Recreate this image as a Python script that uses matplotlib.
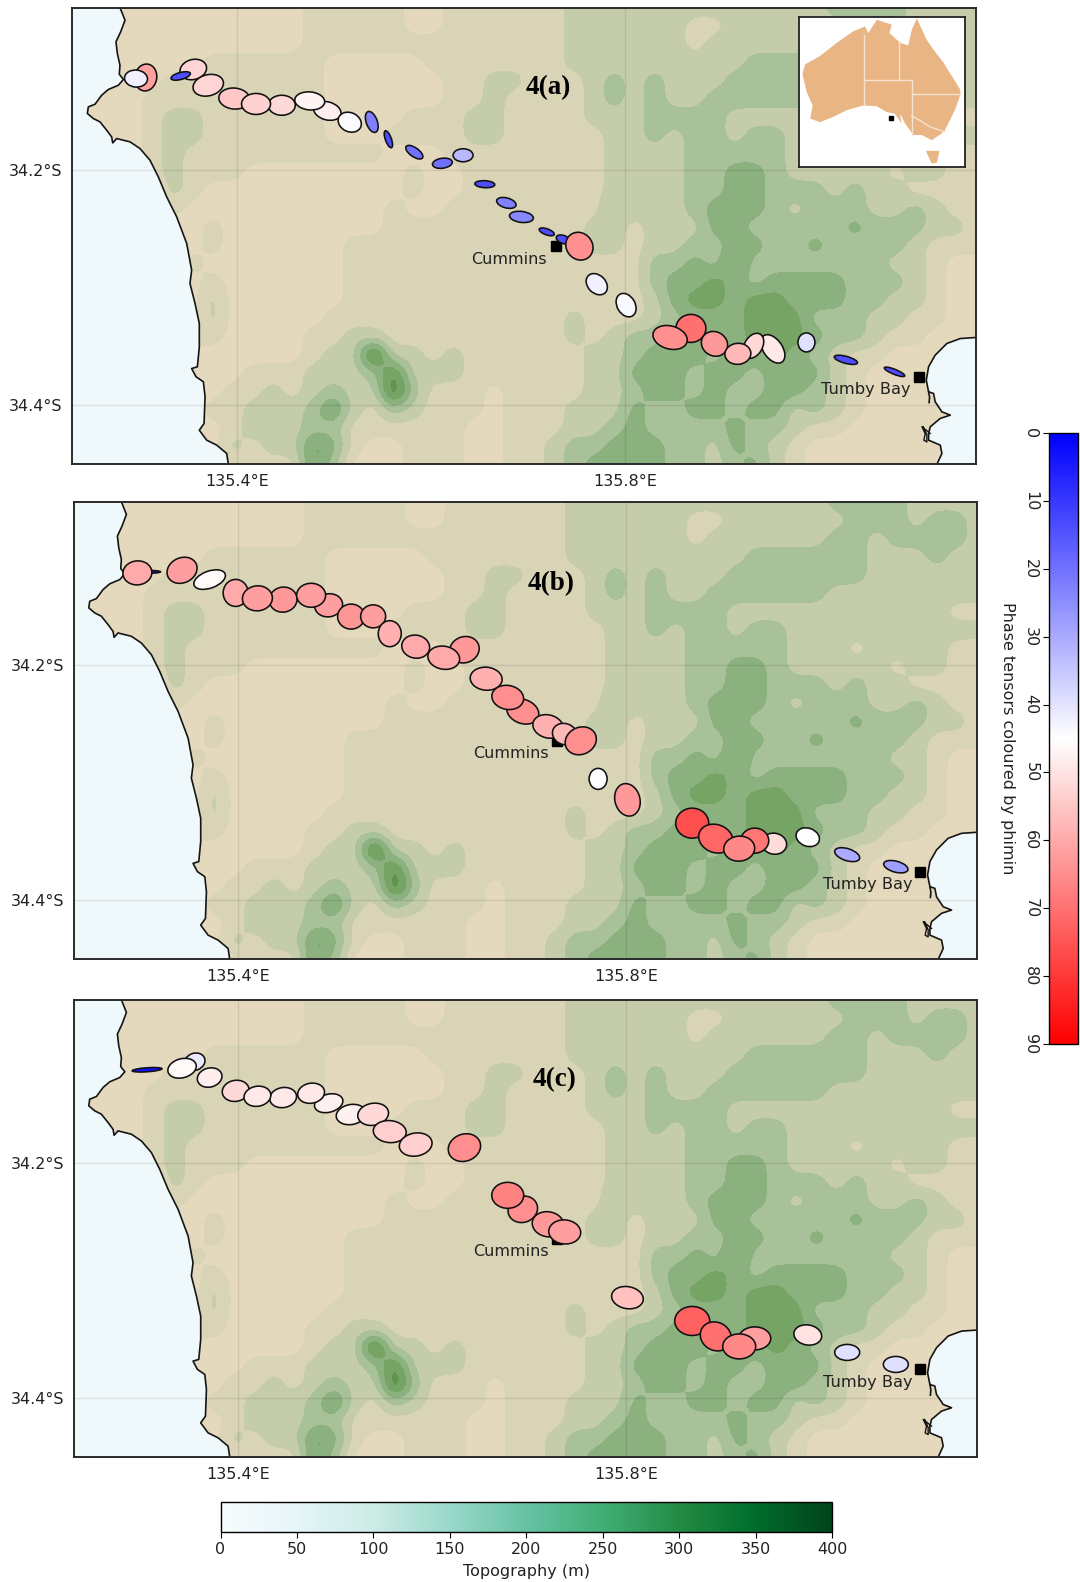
import numpy as np
import matplotlib
matplotlib.use('Agg')
import matplotlib.pyplot as plt
from matplotlib.collections import EllipseCollection
from matplotlib.cm import ScalarMappable
from matplotlib.colors import Normalize

nan = float('nan')

# map extent
lon_min, lon_max = 135.2307, 136.161
lat_min, lat_max = -34.450, -34.0617

# topography bands, one digit per grid node, north to south
topo_rows = [
    "0000000000001111100111" + "111222222222222233332222",
    "0000000000001111100111" + "111222222112222223332332",
    "0000000000001111111111" + "111222222122222233233332",
    "0000000111111000001111" + "111222222222333333222322",
    "0000011111111000000112" + "211123232223333333222222",
    "0000111111111000000112" + "111123232233333322222222",
    "0000122111111000011122" + "111122233332222222222211",
    "0000122111111000111122" + "111112232332332222222222",
    "0000121111111111000111" + "111112222333332221222211",
    "0000121110000000010011" + "111112222334432222212211",
    "0000021000000000010011" + "111112222334433323221111",
    "0000010000000000100111" + "111113222344432333223211",
    "0000000100000000111111" + "111122122244333334333221",
    "0000000100000011111111" + "111122122334433433332111",
    "0000001000000011111111" + "111111133435333333322100",
    "0000000100000011111111" + "111111134454344443332100",
    "0000000200000011111111" + "111111124554554443322100",
    "0000000200000111111111" + "111211123444555333221100",
    "0000001100001122111111" + "111212334444555433211000",
    "0000000000001227221211" + "111122344434454321100000",
    "0000000001112223622211" + "111122444344344421000000",
    "0000000011212322731110" + "111122344343344321000000",
    "0000000112223521321110" + "111222433443442321000000",
    "0000000012223311111100" + "111223433334332110000000",
    "0000000021225410011100" + "112334443324321000000000",
    "0000000011115300011100" + "112344443323421000000000",
]
topo_levels = [0, 50, 100, 150, 200, 250, 300, 350, 400]
band_colors = ['#e5d9bd', '#d9d4b6', '#c5cca9', '#a9c198', '#8ab17e',
               '#76a465', '#5f9550', '#4a8a42']

# coastlines
west_lon = [135.2798, 135.2850, 135.2805, 135.2757, 135.2771, 135.2798, 135.2791, 135.2833,
            135.2781, 135.2678, 135.2609, 135.2541, 135.2472, 135.2462, 135.2524, 135.2592,
            135.2661, 135.2712, 135.2723, 135.2764, 135.2901, 135.3004, 135.3107, 135.3193,
            135.3279, 135.3382, 135.3485, 135.3536, 135.3519, 135.3571, 135.3615, 135.3615,
            135.3595, 135.3536, 135.3581, 135.3657, 135.3674, 135.3664, 135.3615, 135.3691,
            135.3794, 135.3897, 135.3914]
west_lat = [-34.0618, -34.0725, -34.0824, -34.0909, -34.1008, -34.1108, -34.1184, -34.1229,
            -34.1278, -34.1314, -34.1363, -34.1439, -34.1462, -34.1518, -34.1561, -34.1589,
            -34.1660, -34.1717, -34.1768, -34.1731, -34.1759, -34.1816, -34.1915, -34.2057,
            -34.2227, -34.2397, -34.2623, -34.2850, -34.2963, -34.3133, -34.3303, -34.3501,
            -34.3671, -34.3686, -34.3756, -34.3799, -34.3926, -34.4153, -34.4210, -34.4295,
            -34.4337, -34.4408, -34.4501]
east_lon = [136.1612, 136.1451, 136.1313, 136.1193, 136.1125, 136.1101, 136.1125, 136.1176,
            136.1193, 136.1262, 136.1348, 136.1245, 136.1142, 136.1125, 136.1125, 136.1245,
            136.1262, 136.1210]
east_lat = [-34.3422, -34.3431, -34.3473, -34.3572, -34.3671, -34.3785, -34.3884, -34.3898,
            -34.3969, -34.4054, -34.4082, -34.4110, -34.4181, -34.4238, -34.4295, -34.4337,
            -34.4408, -34.4501]
inlet1_lon = [136.1125, 136.1135, 136.1130]
inlet1_lat = [-34.3884, -34.3930, -34.3975]
inlet2_lon = [136.1142, 136.1056, 136.1090, 136.1076, 136.1107, 136.1107, 136.1070]
inlet2_lat = [-34.4238, -34.4181, -34.4238, -34.4295, -34.4310, -34.4250, -34.4181]

# stations along the profile
station_lon = [135.2963, 135.3063, 135.3423, 135.3553, 135.3707, 135.3975, 135.4199, 135.4464,
               135.4752, 135.4933, 135.5164, 135.5391, 135.5562, 135.5829, 135.6118, 135.6331,
               135.6555, 135.6777, 135.6932, 135.7193, 135.7364, 135.7529, 135.7708, 135.8010,
               135.8463, 135.8677, 135.8920, 135.9321, 135.9161, 135.9521, 135.9867, 136.0273,
               136.0774]
station_lat = [-34.1221, -34.1212, -34.1199, -34.1144, -34.1278, -34.1391, -34.1437, -34.1448,
               -34.1411, -34.1496, -34.1592, -34.1590, -34.1737, -34.1847, -34.1941, -34.1873,
               -34.2119, -34.2278, -34.2397, -34.2524, -34.2589, -34.2646, -34.2969, -34.3147,
               -34.3422, -34.3345, -34.3476, -34.3493, -34.3561, -34.3519, -34.3464, -34.3612,
               -34.3714]
draw_order = [1, 0, 3, 2, 4, 5, 7, 6, 9, 8, 10, 11, 12, 13, 15, 14, 16, 18, 17, 19, 20, 21, 22,
              23, 25, 24, 26, 29, 27, 28, 30, 31, 32]

major_a = [23, 27, 20, 27, 31, 31, 29, 27, 30, 28, 24, 22, 18, 20, 20, 20, 20, 20, 24, 16, 15, 29,
           24, 25, 35, 30, 27, 27, 26, 32, 19, 24, 22]
minor_a = [17, 22, 7, 20, 21, 21, 21, 20, 18, 18, 19, 11, 6, 9, 10, 13, 7, 10, 11, 6, 8, 26,
           18, 18, 23, 28, 24, 18, 21, 19, 17, 7, 5]
azim_a = [-5, 80, 15, 15, 15, -5, 0, 0, -5, -15, -25, -70, -70, -35, 8, 0, -3, -15, -7, -20, -20, -50,
          -45, -60, -15, 0, -30, 60, 5, -55, 90, -15, -22]
phimin_a = [42.4, 61.8, 14, 52.5, 52.5, 54.7, 53.3, 52, 46.8, 47.9, 44, 22.6, 14, 19.8, 19.8, 32.5,
            14, 22.6, 24, 14, 14, 64.6, 42.4, 43.8, 64.6, 70, 63, 52, 57.5, 49, 39.5, 14, 14]

major_b = [29, 27, 31, nan, 33, 27, 30, 28, 29, 28, 27, 25, 26, 28, 32, 30, 32, 32, 33, 31, 25, 32,
           21, 33, nan, 33, 35, 28, 31, 25, 24, 26, 25]
minor_b = [24, 3, 25, nan, 17, 25, 25, 25, 24, 23, 25, 23, 23, 23, 23, 26, 23, 24, 24, 23, 21, 27,
           18, 25, nan, 30, 28, 25, 25, 21, 18, 12, 11]
azim_b = [5, 0, 25, nan, 20, 90, 5, 10, 0, 10, 0, 0, 90, -10, -10, 20, -5, -10, -20, -15, -20, 25,
          90, -75, nan, 0, -20, 0, 5, -10, -20, -18, -15]
phimin_b = [60, 3, 62, nan, 46, 60, 62, 63, 62, 62, 63.5, 62, 59, 60, 60, 63, 59, 65, 65, 59, 57.5, 65,
            45, 63, nan, 76, 72, 69, 66, 51, 45, 30, 28]

major_c = [nan, 30, 29, 21, 25, 27, 27, 27, 27, 29, 30, 31, 33, 33, nan, 33, nan, 32, 30, 32, 32, nan,
           nan, 32, nan, 35, 32, 32, 33, nan, 28, 25, 25]
minor_c = [nan, 4, 19, 17, 19, 21, 20, 20, 20, 18, 20, 22, 22, 23, nan, 27, nan, 26, 26, 25, 24, nan,
           nan, 22, nan, 29, 28, 23, 25, nan, 20, 16, 16]
azim_c = [nan, 4, 15, 20, 15, 10, 10, 10, 10, 15, 10, 10, -5, 10, nan, 20, nan, 0, 20, -10, -5, nan,
          nan, -10, nan, 0, -30, 0, 0, nan, -10, 0, 0]
phimin_c = [nan, 3, 46, 41, 48, 52, 49, 49, 49, 47.5, 47.5, 52, 53.5, 53.5, nan, 65, nan, 67, 65, 63, 62, nan,
            nan, 56, nan, 73, 70, 62, 66, nan, 50, 39.5, 39.5]

# towns
town_names = ['Cummins', 'Tumby Bay']
town_lon = [135.7286, 136.1028]
town_lat = [-34.2646, -34.3757]

# inset map of Australia
aus_lon = [113.2, 113.9, 117.7, 122.0, 126.2, 129.2, 130.0, 132.2, 136.0, 135.4, 138.1, 140.2, 141.1,
           142.4, 144.9, 146.6, 149.2, 153.4, 153.6, 152.1, 149.6, 148.7, 146.2, 143.6, 141.5, 139.4,
           138.1, 138.5, 136.8, 134.7, 132.2, 128.8, 124.5, 121.1, 117.7, 115.2, 115.8, 114.3]
aus_lat = [-23.2, -21.0, -19.1, -16.1, -13.5, -12.4, -13.9, -10.9, -12.0, -13.9, -16.1, -16.7, -13.2,
           -10.6, -15.4, -17.6, -20.6, -26.6, -27.7, -31.4, -35.9, -36.7, -38.2, -37.0, -37.0, -34.4,
           -32.2, -34.4, -32.2, -31.8, -30.5, -30.3, -31.4, -32.9, -34.1, -33.3, -30.3, -27.3]
tas_lon = [144.7, 148.2, 147.5, 146.2]
tas_lat = [-40.6, -40.6, -43.3, -43.5]
state_lines = [
    ([128.8, 128.8], [-14.3, -30.3]),
    ([137.9, 137.9], [-15.8, -24.4]),
    ([128.8, 141.1], [-24.5, -24.5]),
    ([141.1, 141.1], [-24.5, -37]),
    ([141.1, 153.4], [-27.7, -27.7]),
    ([141.1, 143.2, 145.8, 149.6], [-32.7, -33.7, -35.2, -36.3]),
]

W, H = 1080, 1582
plt.rcParams['font.family'] = 'DejaVu Sans'
fig = plt.figure(figsize=(W / 100, H / 100), dpi=100)


def px_axes(left, top, right, bottom):
    return fig.add_axes([left / W, 1 - bottom / H, (right - left) / W, (bottom - top) / H])


def smooth_topo(rows, n=4, k=3):
    # contour lines of the raw digit grid come out as diamonds, so soften it a bit
    h = np.array([[int(c) * 50 + 25 for c in row] for row in rows], dtype=float)
    nr, nc = h.shape
    xx = np.linspace(0, nc - 1, (nc - 1) * n + 1)
    yy = np.linspace(0, nr - 1, (nr - 1) * n + 1)
    fine = np.array([np.interp(xx, np.arange(nc), r) for r in h])
    fine = np.array([np.interp(yy, np.arange(nr), c) for c in fine.T]).T
    kernel = np.ones(k) / k
    for _ in range(2):
        p = np.pad(fine, k, mode='edge')
        p = np.apply_along_axis(lambda v: np.convolve(v, kernel, mode='same'), 0, p)
        p = np.apply_along_axis(lambda v: np.convolve(v, kernel, mode='same'), 1, p)
        fine = p[k:-k, k:-k]
    return np.clip(fine, 0, 399)


topo = smooth_topo(topo_rows)


def draw_panel(ax, title, title_lon, title_lat, major, minor, azim, phimin):
    lons = np.linspace(lon_min, lon_max, topo.shape[1])
    lats = np.linspace(lat_max, lat_min, topo.shape[0])
    ax.contourf(lons, lats, topo, levels=topo_levels, colors=band_colors, zorder=1)

    # sea on top of the topography
    ax.fill([lon_min] + west_lon + [lon_min], [lat_max] + west_lat + [lat_min],
            color='#eff8fa', lw=0, zorder=2)
    ax.fill(east_lon + [lon_max], east_lat + [lat_min], color='#eff8fa', lw=0, zorder=2)
    ax.plot(west_lon, west_lat, color='#151515', lw=1.2, zorder=2.5)
    ax.plot(east_lon, east_lat, color='#151515', lw=1.2, zorder=2.5)
    ax.plot(inlet1_lon, inlet1_lat, color='#151515', lw=1.2, zorder=2.5)
    ax.plot(inlet2_lon, inlet2_lat, color='#151515', lw=1.0, zorder=2.5)

    ax.set_xlim(lon_min, lon_max)
    ax.set_ylim(lat_min, lat_max)
    ax.set_xticks([135.4, 135.8])
    ax.set_xticklabels(['135.4°E', '135.8°E'], fontsize=11.5, color='#222222')
    ax.set_yticks([-34.4, -34.2])
    ax.set_yticklabels(['34.4°S', '34.2°S'], fontsize=11.5, color='#222222')
    ax.tick_params(axis='x', length=0, pad=7)
    ax.tick_params(axis='y', length=0, pad=7)
    ax.grid(True, color='black', alpha=0.09, lw=1, zorder=3)
    ax.set_axisbelow(False)
    for s in ax.spines.values():
        s.set_linewidth(1.4)
        s.set_color('#2a2a2a')
        s.set_zorder(10)

    # towns go under the ellipses
    ax.plot(town_lon, town_lat, 's', color='black', ms=7.5, zorder=3.5)
    ax.text(135.7195, -34.2757, town_names[0], ha='right', va='center', fontsize=11.5,
            color='#222222', zorder=6)
    ax.text(136.0945, -34.3865, town_names[1], ha='right', va='center', fontsize=11.7,
            color='#222222', zorder=6)

    # phase tensor ellipses
    idx = [i for i in draw_order if not np.isnan(major[i])]
    offsets = np.column_stack([np.array(station_lon)[idx], np.array(station_lat)[idx]])
    ec = EllipseCollection(np.array(major)[idx], np.array(minor)[idx], np.array(azim)[idx],
                           units='dots', offsets=offsets, offset_transform=ax.transData,
                           cmap='bwr', norm=Normalize(0, 90), edgecolors='#111111',
                           linewidths=1.15, zorder=4)
    ec.set_array(np.array(phimin)[idx])
    ax.add_collection(ec)

    ax.text(title_lon, title_lat, title, family='Liberation Serif', weight='bold', fontsize=19.5,
            ha='center', va='center', color='black', zorder=6)


ax_a = px_axes(72.3, 7.5, 975.7, 464.3)
draw_panel(ax_a, '4(a)', 135.7205, -34.1300, major_a, minor_a, azim_a, phimin_a)
ax_b = px_axes(73.7, 501.7, 977, 959.3)
draw_panel(ax_b, '4(b)', 135.7225, -34.1310, major_b, minor_b, azim_b, phimin_b)
ax_c = px_axes(73.7, 999.7, 977, 1457)
draw_panel(ax_c, '4(c)', 135.7260, -34.1295, major_c, minor_c, azim_c, phimin_c)

# inset
ins = px_axes(799.3, 16.7, 965, 166.7)
ins.fill(aus_lon, aus_lat, color='#e9b585', lw=0)
ins.fill(tas_lon, tas_lat, color='#e9b585', lw=0)
for xs, ys in state_lines:
    ins.plot(xs, ys, color='#f4e2cf', lw=1)
ins.plot([135.7], [-33.1], 's', color='black', ms=3)
ins.set_xlim(112.4, 154.7)
ins.set_ylim(-44.2, -10.2)
ins.set_xticks([])
ins.set_yticks([])
ins.set_facecolor('white')
for s in ins.spines.values():
    s.set_linewidth(1.3)
    s.set_color('#222222')
ins.set_zorder(20)

# phase tensor colourbar
cax = px_axes(1048.7, 433, 1078, 1044)
cb = fig.colorbar(ScalarMappable(norm=Normalize(0, 90), cmap='bwr'), cax=cax)
cb.set_ticks(list(range(0, 100, 10)))
cax.invert_yaxis()
cax.yaxis.set_ticks_position('left')
cax.yaxis.set_label_position('left')
cax.tick_params(labelsize=11.5, labelrotation=270, length=4.5, pad=3, labelcolor='#222222')
for t in cax.get_yticklabels():
    t.set_va('center')
cb.set_label('Phase tensors coloured by phimin', rotation=270, fontsize=11.5, color='#222222', labelpad=17)
cb.outline.set_linewidth(1)

# topography colourbar
tax = px_axes(220.5, 1502, 832, 1532)
tb = fig.colorbar(ScalarMappable(norm=Normalize(0, 400), cmap='BuGn'), cax=tax, orientation='horizontal')
tb.set_ticks(list(range(0, 450, 50)))
tax.tick_params(labelsize=11.5, length=4.5, pad=3, labelcolor='#222222')
tb.set_label('Topography (m)', fontsize=11.5, color='#222222', labelpad=5)
tb.outline.set_linewidth(1)

fig.savefig('out.png', dpi=100)
